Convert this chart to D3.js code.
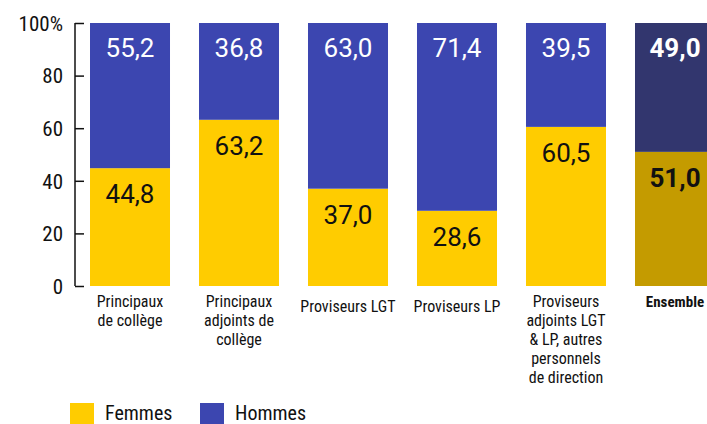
<!DOCTYPE html>
<html>
<head>
<meta charset="utf-8">
<script src="https://d3js.org/d3.v7.min.js"></script>
<style>
  body { margin: 0; background: #fff; }
  svg text { font-family: "Roboto Condensed", "Liberation Sans Narrow", sans-serif; fill: #111; }
  svg text.val { font-family: Roboto, "Liberation Sans", sans-serif; }
</style>
</head>
<body>
<svg id="chart" width="707" height="424"></svg>
<script>
var categories = [
  ["Principaux", "de collège"],
  ["Principaux", "adjoints de", "collège"],
  ["Proviseurs LGT"],
  ["Proviseurs LP"],
  ["Proviseurs", "adjoints LGT", "& LP, autres", "personnels", "de direction"],
  ["Ensemble"]
];
var femmes = [44.8, 63.2, 37.0, 28.6, 60.5, 51.0];
var hommes = [55.2, 36.8, 63.0, 71.4, 39.5, 49.0];
var yTicks = [0, 20, 40, 60, 80, 100];

var svg = d3.select("#chart");
var fmt = function (v) { return v.toFixed(1).replace(".", ","); };

var x = d3.scaleBand().domain(d3.range(categories.length)).range([90, 715]).paddingInner(0.266).paddingOuter(0);
var y = d3.scaleLinear().domain([0, 100]).range([286, 23]);

var colF = function (i) { return i === 5 ? "#c49b00" : "#ffcc00"; };
var colH = function (i) { return i === 5 ? "#32366e" : "#3c46b0"; };

// axis
var axis = svg.append("g").attr("transform", "translate(75,0)")
  .call(d3.axisRight(y).tickValues(yTicks).tickSize(9)
    .tickFormat(function (d) { return d === 100 ? "100%" : d; }));
axis.select(".domain").attr("d", "M0," + y(0) + "V" + y(100)).attr("stroke", "#111").attr("stroke-width", 1.5);
axis.selectAll(".tick line").attr("stroke", "#111").attr("stroke-width", 1.5);
axis.selectAll(".tick text").attr("x", -12).attr("text-anchor", "end")
  .style("font-size", "21px").attr("dy", "0.35em");

// bars
var g = svg.append("g");
femmes.forEach(function (f, i) {
  var bold = i === 5;
  g.append("rect").attr("x", x(i)).attr("width", x.bandwidth())
    .attr("y", y(f)).attr("height", y(0) - y(f)).attr("fill", colF(i));
  g.append("rect").attr("x", x(i)).attr("width", x.bandwidth())
    .attr("y", y(100)).attr("height", y(f) - y(100)).attr("fill", colH(i));
  var cx = x(i) + x.bandwidth() / 2;
  g.append("text").attr("class", "val").attr("x", cx).attr("y", y(f) + 26).attr("dy", "0.35em")
    .attr("text-anchor", "middle").style("font-size", "26px")
    .style("font-weight", bold ? "bold" : "normal")
    .text(fmt(f));
  g.append("text").attr("class", "val").attr("x", cx).attr("y", y(100) + 25).attr("dy", "0.35em")
    .attr("text-anchor", "middle").style("font-size", "26px")
    .style("font-weight", bold ? "bold" : "normal")
    .style("fill", "#fff")
    .text(fmt(hommes[i]));
  var t = g.append("text").attr("text-anchor", "middle")
    .style("font-size", bold ? "15px" : "16px")
    .style("font-weight", bold ? "bold" : "normal");
  var y0 = (categories[i].length === 1 && !bold) ? 312 : 307;
  categories[i].forEach(function (line, k) {
    t.append("tspan").attr("x", cx).attr("y", y0 + k * 19).text(line);
  });
});

// legend
var legend = [["Femmes", "#ffcc00", 70], ["Hommes", "#3c46b0", 200]];
legend.forEach(function (l) {
  svg.append("rect").attr("x", l[2]).attr("y", 403).attr("width", 24).attr("height", 21).attr("fill", l[1]);
  svg.append("text").attr("x", l[2] + 35).attr("y", 420).style("font-size", "20px").text(l[0]);
});
</script>
</body>
</html>
